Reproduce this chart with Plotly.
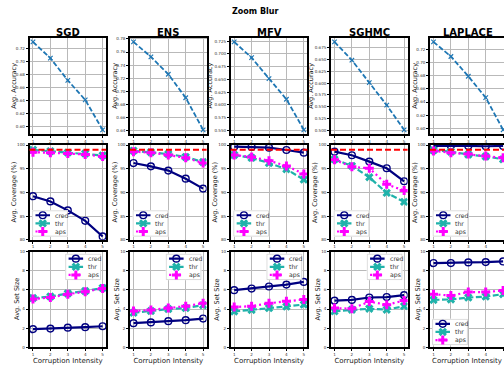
import plotly.graph_objects as go

W, H = 504, 370
methods = ["SGD", "ENS", "MFV", "SGHMC", "LAPLACE"]
intensity = [1, 2, 3, 4, 5]
TARGET = 99

# Accuracy
acc_sgd = [0.730, 0.705, 0.671, 0.641, 0.595]
acc_ens = [0.7755, 0.7527, 0.726, 0.690, 0.641]
acc_mfv = [0.7236, 0.6927, 0.6515, 0.611, 0.551]
acc_sghmc = [0.687, 0.6485, 0.601, 0.5535, 0.5015]
acc_laplace = [0.731, 0.709, 0.679, 0.6467, 0.598]

# Coverage (%)
cov_cred_sgd = [89.2, 88.1, 86.2, 84.0, 80.7]
cov_thr_sgd = [99.0, 98.7, 98.4, 98.2, 97.8]
cov_aps_sgd = [98.5, 98.4, 98.2, 98.0, 97.6]
cov_cred_ens = [96.2, 95.5, 94.6, 92.9, 90.8]
cov_thr_ens = [98.8, 98.5, 98.1, 97.5, 96.4]
cov_aps_ens = [98.6, 98.4, 97.9, 97.3, 96.2]
cov_cred_mfv = [99.65, 99.6, 99.45, 98.95, 98.4]
cov_thr_mfv = [97.9, 97.3, 96.2, 94.9, 92.7]
cov_aps_mfv = [97.9, 97.5, 96.7, 95.6, 93.9]
cov_cred_sghmc = [98.6, 97.85, 96.5, 95.1, 92.35]
cov_thr_sghmc = [97.0, 95.6, 93.2, 89.9, 88.0]
cov_aps_sghmc = [96.9, 95.4, 95.1, 91.7, 90.4]
cov_cred_laplace = [99.8, 99.85, 99.8, 99.75, 99.8]
cov_thr_laplace = [98.9, 98.6, 98.0, 97.6, 97.0]
cov_aps_laplace = [98.75, 98.4, 98.1, 97.7, 97.3]

# Set size
size_cred_sgd = [1.9, 1.95, 2.05, 2.1, 2.2]
size_thr_sgd = [5.15, 5.3, 5.63, 5.87, 6.2]
size_aps_sgd = [5.05, 5.2, 5.55, 5.8, 6.15]
size_cred_ens = [2.52, 2.6, 2.73, 2.83, 3.0]
size_thr_ens = [3.6, 3.8, 4.0, 4.1, 4.4]
size_aps_ens = [3.8, 3.9, 4.1, 4.3, 4.6]
size_cred_mfv = [5.97, 6.14, 6.35, 6.55, 6.83]
size_thr_mfv = [3.75, 3.9, 4.1, 4.26, 4.47]
size_aps_mfv = [4.2, 4.3, 4.6, 4.8, 5.0]
size_cred_sghmc = [4.88, 4.95, 5.2, 5.25, 5.45]
size_thr_sghmc = [3.76, 3.93, 4.03, 3.93, 4.3]
size_aps_sghmc = [4.1, 4.03, 4.78, 4.45, 4.88]
size_cred_laplace = [8.8, 8.8, 8.87, 8.9, 8.97]
size_thr_laplace = [4.95, 5.0, 5.2, 5.3, 5.55]
size_aps_laplace = [5.55, 5.4, 5.77, 5.77, 5.93]

acc = [acc_sgd, acc_ens, acc_mfv, acc_sghmc, acc_laplace]
cov = [
    [cov_cred_sgd, cov_thr_sgd, cov_aps_sgd],
    [cov_cred_ens, cov_thr_ens, cov_aps_ens],
    [cov_cred_mfv, cov_thr_mfv, cov_aps_mfv],
    [cov_cred_sghmc, cov_thr_sghmc, cov_aps_sghmc],
    [cov_cred_laplace, cov_thr_laplace, cov_aps_laplace],
]
sizes = [
    [size_cred_sgd, size_thr_sgd, size_aps_sgd],
    [size_cred_ens, size_thr_ens, size_aps_ens],
    [size_cred_mfv, size_thr_mfv, size_aps_mfv],
    [size_cred_sghmc, size_thr_sghmc, size_aps_sghmc],
    [size_cred_laplace, size_thr_laplace, size_aps_laplace],
]
acc_dtick = [0.02, 0.02, 0.025, 0.025, 0.02]
acc_fmt = [".2f", ".2f", ".3f", ".3f", ".2f"]
row_titles = ["Avg. Accuracy", "Avg. Coverage (%)", "Avg. Set Size"]

series_names = ["cred", "thr", "aps"]
series_style = {
    "cred": dict(color="#000080", dash="solid", symbol="circle-open", msize=6.8, mline=1.4),
    "thr": dict(color="#20b2aa", dash="6px,2.5px", symbol="x", msize=7.5, mline=0),
    "aps": dict(color="#ff00ff", dash="2px,3px", symbol="cross", msize=7.5, mline=0),
}

FONT = "DejaVu Sans"
col_left = [29.5, 130, 230.7, 331, 430]
col_w = 76.6
row_top = [35, 144, 252]
row_bot = [133, 240, 349]
ytitle_off = [[-15.5, -15, -21, -20, -15], [-15.5, -15, -15.5, -15.5, -14.5], [-12, -13, -13.5, -13, -12]]
X_LO, X_HI = 0.8, 5.2
GRID = "#b9b9b9"
TICKFONT = dict(size=4.1, color="#333", family=FONT)


def fx(p):
    return p / W


def fy(p):
    return 1 - p / H


fig = go.Figure()
layout = {}
annotations = []


def ax_name(k, letter):
    return letter + ("" if k == 1 else str(k))


for r in range(3):
    for c in range(5):
        k = r * 5 + c + 1
        left = col_left[c]
        right = left + col_w
        xr_hi = X_HI
        if right > W:
            xr_hi = X_LO + (W - left) / col_w * (X_HI - X_LO)
            right = W
        xa = dict(
            domain=[fx(left), min(1.0, fx(right))],
            anchor=ax_name(k, "y"),
            range=[X_LO, xr_hi],
            tickvals=intensity,
            showline=True, mirror=True, linecolor="black", linewidth=1.5,
            ticks="outside", ticklen=2, tickwidth=0.8, tickcolor="black",
            tickfont=TICKFONT,
            showgrid=True, gridcolor=GRID, gridwidth=1.2,
            zeroline=False,
        )
        if r == 2:
            xa["title"] = dict(text="Corruption Intensity", font=dict(size=7, color="#222", family=FONT), standoff=2)
        ya = dict(
            domain=[fy(row_bot[r]), fy(row_top[r])],
            anchor=ax_name(k, "x"),
            showline=True, mirror=(c < 4), linecolor="black", linewidth=1.5,
            ticks="outside", ticklen=2, tickwidth=0.8, tickcolor="black",
            tickfont=TICKFONT,
            showgrid=True, gridcolor=GRID, gridwidth=1.2,
            zeroline=False,
        )
        if r == 0:
            vals = acc[c]
            lo, hi = min(vals), max(vals)
            span = hi - lo
            ya.update(range=[lo - 0.05 * span, hi + 0.05 * span], dtick=acc_dtick[c], tick0=0,
                      tickformat=acc_fmt[c])
        elif r == 1:
            ya.update(range=[80, 100], dtick=5, tick0=0)
        else:
            ya.update(range=[0, 10], dtick=2, tick0=0)
        annotations.append(dict(
            x=fx(col_left[c] + ytitle_off[r][c]), y=fy((row_top[r] + row_bot[r]) / 2),
            xref="paper", yref="paper", text=row_titles[r], textangle=-90, showarrow=False,
            xanchor="center", yanchor="middle", font=dict(size=6.5, color="#222", family=FONT)))
        layout[ax_name(k, "xaxis")] = xa
        layout[ax_name(k, "yaxis")] = ya

        xref, yref = ax_name(k, "x"), ax_name(k, "y")
        if r == 0:
            fig.add_trace(go.Scatter(
                x=intensity, y=acc[c], mode="lines+markers", xaxis=xref, yaxis=yref,
                line=dict(color="#1f77b4", width=1.8, dash="5px,2.2px"),
                marker=dict(symbol="x-thin", size=4.5, line=dict(color="#1f77b4", width=1.2)),
                showlegend=False,
            ))
        else:
            data = cov[c] if r == 1 else sizes[c]
            for name, vals in zip(series_names, data):
                st = series_style[name]
                mk = dict(symbol=st["symbol"], size=st["msize"], color=st["color"])
                if st["mline"]:
                    mk["line"] = dict(color=st["color"], width=st["mline"])
                else:
                    mk["line"] = dict(width=0)
                fig.add_trace(go.Scatter(
                    x=intensity, y=vals, mode="lines+markers", xaxis=xref, yaxis=yref,
                    line=dict(color=st["color"], width=2.2, dash=st["dash"]),
                    marker=mk, name=name, showlegend=False,
                ))
            if r == 1:
                fig.add_shape(type="line", xref=f"{xref} domain", yref=yref, x0=0, x1=1,
                              y0=TARGET, y1=TARGET, line=dict(color="red", width=2, dash="6px,3px"),
                              layer="above")

# Manual compact legends (matplotlib style)
LW, LH = 36, 27
legend_boxes = []
for c in range(5):
    left = col_left[c] + 2.5
    bottom = row_bot[1] - 3
    legend_boxes.append((left, bottom - LH))
for c in range(5):
    if c < 4:
        right = col_left[c] + col_w - 5
        legend_boxes.append((right - LW, row_top[2] + 2))
    else:
        left = col_left[c] + 2
        bottom = row_bot[2] - 2
        legend_boxes.append((left, bottom - LH))

for i, (bl, bt) in enumerate(legend_boxes):
    k = 16 + i
    xref, yref = ax_name(k, "x"), ax_name(k, "y")
    layout[ax_name(k, "xaxis")] = dict(domain=[fx(bl), fx(bl + LW)], anchor=yref, range=[-0.6, LW + 0.6],
                                       visible=False, fixedrange=True)
    layout[ax_name(k, "yaxis")] = dict(domain=[fy(bt + LH), fy(bt)], anchor=xref, range=[LH + 0.6, -0.6],
                                       visible=False, fixedrange=True)
    fig.add_trace(go.Scatter(x=[0, LW, LW, 0, 0], y=[0, 0, LH, LH, 0], mode="lines", fill="toself",
                             fillcolor="rgba(255,255,255,0.85)", line=dict(color="#cccccc", width=0.8),
                             xaxis=xref, yaxis=yref, showlegend=False, hoverinfo="skip"))
    for j, name in enumerate(series_names):
        st = series_style[name]
        yc = 4.8 + j * 8.6
        fig.add_trace(go.Scatter(x=[3, 18], y=[yc, yc], mode="lines", xaxis=xref, yaxis=yref,
                                 line=dict(color=st["color"], width=2.2, dash=st["dash"]),
                                 showlegend=False, hoverinfo="skip"))
        mk = dict(symbol=st["symbol"], size=st["msize"], color=st["color"])
        mk["line"] = dict(color=st["color"], width=st["mline"]) if st["mline"] else dict(width=0)
        fig.add_trace(go.Scatter(x=[10.5], y=[yc], mode="markers", xaxis=xref, yaxis=yref,
                                 marker=mk, showlegend=False, hoverinfo="skip"))
        annotations.append(dict(x=21, y=yc, xref=xref, yref=yref, text=name, showarrow=False,
                                xanchor="left", yanchor="middle",
                                font=dict(size=6.2, color="#333", family=FONT)))

# Titles
annotations.append(dict(x=fx(255), y=fy(9), xref="paper", yref="paper", text="<b>Zoom Blur</b>",
                        showarrow=False, xanchor="center", yanchor="middle",
                        font=dict(size=8, color="black", family=FONT)))
for c, m in enumerate(methods):
    annotations.append(dict(x=fx(col_left[c] + col_w / 2), y=fy(29.5), xref="paper", yref="paper",
                            text=f"<b>{m}</b>", showarrow=False, xanchor="center", yanchor="middle",
                            font=dict(size=10, color="black", family=FONT)))

fig.update_layout(
    width=W, height=H,
    margin=dict(l=0, r=0, t=0, b=0),
    paper_bgcolor="white", plot_bgcolor="white",
    showlegend=False,
    annotations=annotations,
    font=dict(family=FONT),
    **layout,
)
fig.write_html("out.html")
